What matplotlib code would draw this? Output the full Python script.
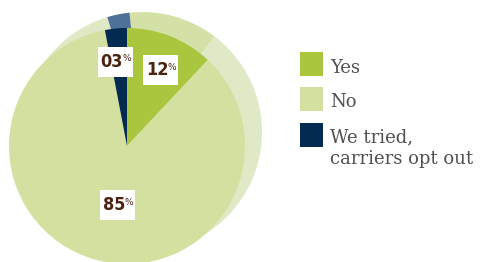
import numpy as np
import matplotlib.pyplot as plt
from matplotlib.patches import Rectangle

# data
labels = ['Yes', 'No', 'We tried,\ncarriers opt out']
values = [12, 85, 3]
pct_text = ['12', '85', '03']

colors = ['#a9c63e', '#d3e09f', '#032a50']
shadow_colors = ['#d4e1a6', '#e0e9c6', '#4e7099']

W, H = 483, 262
fig = plt.figure(figsize=(W / 100, H / 100), dpi=100)
ax = fig.add_axes([0, 0, 1, 1])

cx, cy, r = 127, 116, 118

# pale extruded "back" of the pie, shifted up and right
ax.pie(values, colors=shadow_colors, startangle=96, counterclock=False,
       radius=120, center=(142, 130), frame=True,
       wedgeprops=dict(linewidth=0))

wedges, _ = ax.pie(values, colors=colors, startangle=90, counterclock=False,
                   radius=r, center=(cx, cy), frame=True,
                   wedgeprops=dict(linewidth=0))
ax.set_xlim(0, W)
ax.set_ylim(0, H)
ax.set_aspect('equal')
ax.axis('off')

# percentage tags (white boxes)
dist = [0.70, 0.51, 0.72]
ang_shift = [-2, 7, 3]
num_font = dict(family='DejaVu Sans', fontstretch='condensed',
                fontweight='bold', color='#4a2411')
for w, txt, d, da in zip(wedges, pct_text, dist, ang_shift):
    ang = np.deg2rad((w.theta1 + w.theta2) / 2 + da)
    x = cx + d * r * np.cos(ang)
    y = cy + d * r * np.sin(ang)
    ax.add_patch(Rectangle((x - 17, y - 15), 35, 30, facecolor='white',
                           edgecolor='none', zorder=5))
    ax.text(x - 3, y, txt, ha='center', va='center', fontsize=13,
            zorder=6, **num_font)
    ax.text(x + 7.5, y + 3, '%', ha='left', va='center', fontsize=6.5,
            family='DejaVu Sans', color='#4a2411', zorder=6)

# legend
leg_top = [H - 52, H - 87, H - 123]
base_off = [21, 20, 19]
for lab, col, top, bo in zip(labels, colors, leg_top, base_off):
    ax.add_patch(Rectangle((300, top - 24), 23, 24, facecolor=col,
                           edgecolor='none'))
    for i, line in enumerate(lab.split('\n')):
        ax.text(330, top - bo - 22 * i, line, ha='left', va='baseline',
                fontsize=13, family='DejaVu Serif', color='#505050')

fig.savefig('out.png', dpi=100)
